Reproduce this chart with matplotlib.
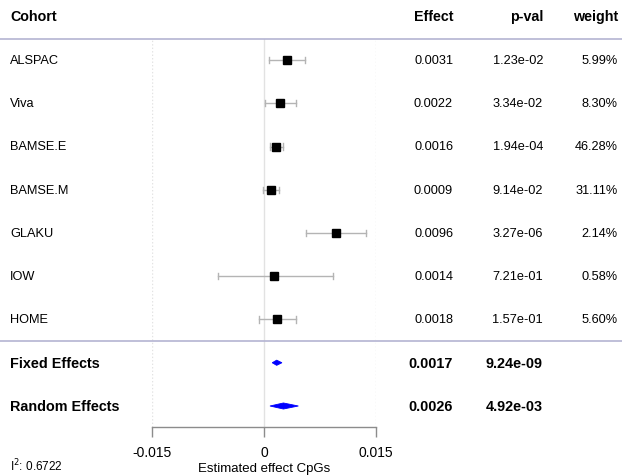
import matplotlib
matplotlib.use("Agg")
import matplotlib.pyplot as plt
from matplotlib.transforms import blended_transform_factory
from matplotlib.lines import Line2D
from matplotlib.patches import Polygon

plt.rcParams['font.family'] = ['Liberation Sans', 'DejaVu Sans']

# Per-cohort estimates
cohorts = ["ALSPAC", "Viva", "BAMSE.E", "BAMSE.M", "GLAKU", "IOW", "HOME"]
effects = [0.0031, 0.0022, 0.0016, 0.0009, 0.0096, 0.0014, 0.0018]
ci_low = [0.0007, 0.0002, 0.0008, -0.0001, 0.0056, -0.0062, -0.0007]
ci_high = [0.0055, 0.0043, 0.0025, 0.0020, 0.0137, 0.0092, 0.0043]
pvals = ["1.23e-02", "3.34e-02", "1.94e-04", "9.14e-02", "3.27e-06", "7.21e-01", "1.57e-01"]
weights = ["5.99%", "8.30%", "46.28%", "31.11%", "2.14%", "0.58%", "5.60%"]

# Pooled estimates
summary_names = ["Fixed Effects", "Random Effects"]
summary_effects = [0.0017, 0.0026]
summary_low = [0.0011, 0.0008]
summary_high = [0.0024, 0.0046]
summary_pvals = ["9.24e-09", "4.92e-03"]
i2 = 0.6722

xticks = [-0.015, 0, 0.015]
xtick_labels = ["-0.015", "0", "0.015"]

W, H = 622, 477
fig = plt.figure(figsize=(W / 100, H / 100), dpi=100)
ax = fig.add_axes([152 / W, (H - 428) / H, 224 / W, 388 / H])
ax.set_xlim(-0.015, 0.015)
row_h = 43.25
ax.set_ylim((428 - 61) / row_h, (40 - 61) / row_h)

for s in ["top", "right", "left"]:
    ax.spines[s].set_visible(False)
ax.spines["bottom"].set_color("#8c8c8c")
ax.spines["bottom"].set_linewidth(1.0)
ax.set_yticks([])
ax.set_xticks(xticks)
ax.set_xticklabels(xtick_labels, fontsize=10)
ax.tick_params(axis="x", direction="out", length=7, width=1.0, color="#8c8c8c", pad=6)
ax.set_xlabel("Estimated effect CpGs", fontsize=9.5, labelpad=2)

# reference lines
ax.axvline(0, color="#e2e2e2", lw=1.0, zorder=0)
for xv in (-0.015, 0.015):
    ax.axvline(xv, color="#e3e3e3", lw=1.0, ls=(0, (1, 1.5)), zorder=0)

# cohort estimates
cap = 0.075
for i, (e, lo, hi) in enumerate(zip(effects, ci_low, ci_high)):
    ax.plot([lo, hi], [i, i], color="#b4b4b4", lw=1.0, zorder=2)
    ax.plot([lo, lo], [i - cap, i + cap], color="#b4b4b4", lw=1.0, zorder=2)
    ax.plot([hi, hi], [i - cap, i + cap], color="#b4b4b4", lw=1.0, zorder=2)
    ax.plot([e], [i], marker="s", color="black", markersize=6, zorder=3)

# pooled diamonds
half_heights = [0.06, 0.07]
for k, (e, lo, hi) in enumerate(zip(summary_effects, summary_low, summary_high)):
    y = len(cohorts) + k
    hh = half_heights[k]
    ax.add_patch(Polygon([[lo, y], [e, y - hh], [hi, y], [e, y + hh]],
                         closed=True, facecolor="#0000ff", edgecolor="#0000ff",
                         lw=0.6, zorder=3))

tr = blended_transform_factory(fig.transFigure, ax.transData)
fx = lambda px: px / W

col_effect, col_p, col_w = 453, 543, 618

# header
hy = (17 - 61) / row_h
ax.text(fx(10), hy, "Cohort", transform=tr, ha="left", va="center", fontsize=10.3, fontweight="bold")
ax.text(fx(col_effect), hy, "Effect", transform=tr, ha="right", va="center", fontsize=10.3, fontweight="bold")
ax.text(fx(col_p), hy, "p-val", transform=tr, ha="right", va="center", fontsize=10.3, fontweight="bold")
ax.text(fx(col_w), hy, "weight", transform=tr, ha="right", va="center", fontsize=10.3, fontweight="bold")

line_col = "#b4b4d2"
for yv in ((40 - 61) / row_h, (342 - 61) / row_h):
    fig.add_artist(Line2D([0, 1], [yv, yv], transform=tr, color=line_col, lw=1.2, clip_on=False))

for i, name in enumerate(cohorts):
    ax.text(fx(10), i, name, transform=tr, ha="left", va="center", fontsize=9.2)
    ax.text(fx(col_effect), i, f"{effects[i]:.4f}", transform=tr, ha="right", va="center", fontsize=9.2)
    ax.text(fx(col_p), i, pvals[i], transform=tr, ha="right", va="center", fontsize=9.2)
    ax.text(fx(col_w), i, weights[i], transform=tr, ha="right", va="center", fontsize=9.2)

for k, name in enumerate(summary_names):
    y = len(cohorts) + k
    ax.text(fx(10), y, name, transform=tr, ha="left", va="center", fontsize=10.4, fontweight="bold")
    ax.text(fx(col_effect), y, f"{summary_effects[k]:.4f}", transform=tr, ha="right", va="center",
            fontsize=10.4, fontweight="bold")
    ax.text(fx(col_p), y, summary_pvals[k], transform=tr, ha="right", va="center",
            fontsize=10.4, fontweight="bold")

fig.text(fx(10), 1 - 466 / H, f"I$^2$: {i2:.4f}", ha="left", va="center", fontsize=8.5)

fig.savefig("out.png", dpi=100, facecolor="white")
